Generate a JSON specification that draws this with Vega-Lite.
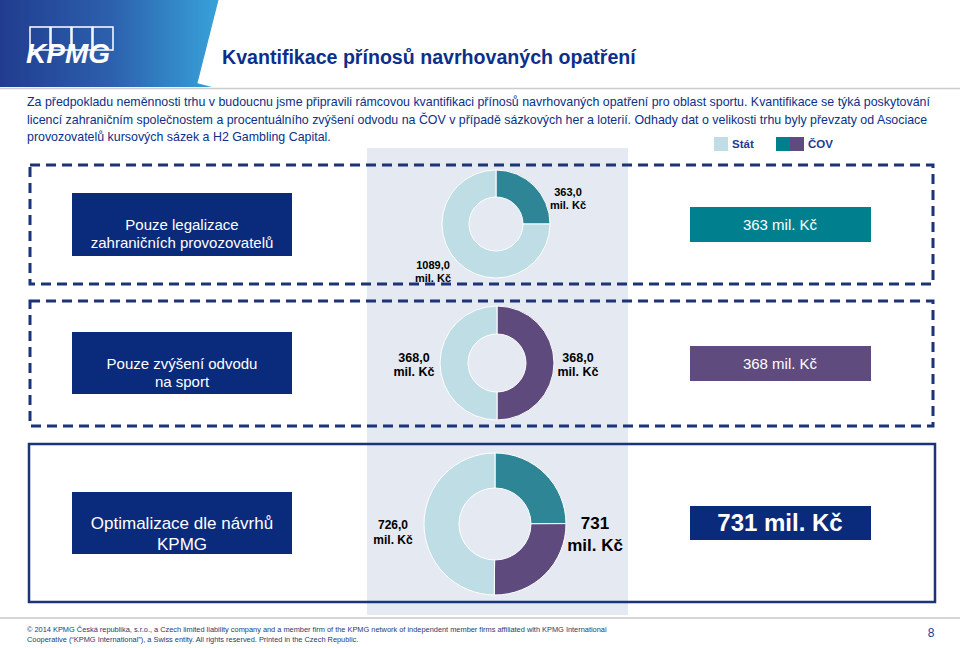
{
  "$schema": "https://vega.github.io/schema/vega-lite/v6.json",
  "width": 960,
  "height": 648,
  "autosize": {"type": "none"},
  "padding": 0,
  "background": "white",
  "config": {"view": {"stroke": null}, "font": "Liberation Sans", "text": {"font": "Liberation Sans"}},
  "resolve": {"scale": {"theta": "independent"}},
  "layer": [
    {
      "data": {"values": [{"el": "header"}]},
      "mark": {"type": "rect", "color": {"gradient": "linear", "x1": 0, "y1": 0, "x2": 1, "y2": 0, "stops": [{"offset": 0, "color": "#213c8f"}, {"offset": 0.5, "color": "#2c60ad"}, {"offset": 1, "color": "#38a4da"}]}},
      "encoding": {
        "x": {"datum": 0, "type": "quantitative", "scale": {"domain": [0, 960], "nice": false, "zero": false}, "axis": null},
        "x2": {"datum": 222},
        "y": {"datum": 0, "type": "quantitative", "scale": {"domain": [0, 648], "nice": false, "zero": false, "reverse": true}, "axis": null},
        "y2": {"datum": 87}
      }
    },
    {
      "data": {"values": [{"el": "slant"}]},
      "mark": {"type": "rule", "color": "white", "strokeWidth": 30},
      "encoding": {
        "x": {"datum": 235, "type": "quantitative", "axis": null},
        "x2": {"datum": 212},
        "y": {"datum": -4, "type": "quantitative", "axis": null},
        "y2": {"datum": 87}
      }
    },
    {
      "data": {"values": [{"el": "line"}]},
      "mark": {"type": "rule", "color": "#cccccc", "strokeWidth": 1.5},
      "encoding": {
        "x": {"datum": 0, "type": "quantitative", "axis": null},
        "x2": {"datum": 960},
        "y": {"datum": 88.5, "type": "quantitative", "axis": null}
      }
    },
    {
      "data": {"values": [{"b": 0}]},
      "mark": {"type": "rect", "fill": null, "fillOpacity": 0, "stroke": "white", "strokeWidth": 1.5},
      "encoding": {"x": {"datum": 30, "type": "quantitative", "axis": null}, "x2": {"datum": 50}, "y": {"datum": 27, "type": "quantitative", "axis": null}, "y2": {"datum": 50}}
    },
    {
      "data": {"values": [{"b": 1}]},
      "mark": {"type": "rect", "fill": null, "fillOpacity": 0, "stroke": "white", "strokeWidth": 1.5},
      "encoding": {"x": {"datum": 51, "type": "quantitative", "axis": null}, "x2": {"datum": 71}, "y": {"datum": 27, "type": "quantitative", "axis": null}, "y2": {"datum": 50}}
    },
    {
      "data": {"values": [{"b": 2}]},
      "mark": {"type": "rect", "fill": null, "fillOpacity": 0, "stroke": "white", "strokeWidth": 1.5},
      "encoding": {"x": {"datum": 72, "type": "quantitative", "axis": null}, "x2": {"datum": 92}, "y": {"datum": 27, "type": "quantitative", "axis": null}, "y2": {"datum": 50}}
    },
    {
      "data": {"values": [{"b": 3}]},
      "mark": {"type": "rect", "fill": null, "fillOpacity": 0, "stroke": "white", "strokeWidth": 1.5},
      "encoding": {"x": {"datum": 93, "type": "quantitative", "axis": null}, "x2": {"datum": 113}, "y": {"datum": 27, "type": "quantitative", "axis": null}, "y2": {"datum": 50}}
    },
    {
      "data": {"values": [{"t": "KPMG"}]},
      "mark": {"type": "text", "color": "white", "fontSize": 28, "fontWeight": "bold", "fontStyle": "italic", "align": "center", "baseline": "alphabetic"},
      "encoding": {"text": {"field": "t"}, "x": {"datum": 68, "type": "quantitative", "axis": null}, "y": {"datum": 63, "type": "quantitative", "axis": null}}
    },
    {
      "data": {"values": [{"t": "Kvantifikace přínosů navrhovaných opatření"}]},
      "mark": {"type": "text", "color": "#0b2f8a", "fontSize": 19.6, "fontWeight": "bold", "align": "left", "baseline": "alphabetic"},
      "encoding": {"text": {"field": "t"}, "x": {"datum": 222, "type": "quantitative", "axis": null}, "y": {"datum": 64, "type": "quantitative", "axis": null}}
    },
    {
      "data": {"values": [{"el": "body"}]},
      "mark": {"type": "text", "color": "#0b2f8a", "fontSize": 12.4, "align": "left", "baseline": "alphabetic", "lineHeight": 17.5},
      "encoding": {
        "text": {"value": ["Za předpokladu neměnnosti trhu v budoucnu jsme připravili rámcovou kvantifikaci přínosů navrhovaných opatření pro oblast sportu. Kvantifikace se týká poskytování", "licencí zahraničním společnostem a procentuálního zvýšení odvodu na ČOV v případě sázkových her a loterií. Odhady dat o velikosti trhu byly převzaty od Asociace", "provozovatelů kursových sázek a H2 Gambling Capital."]},
        "x": {"datum": 27, "type": "quantitative", "axis": null},
        "y": {"datum": 106, "type": "quantitative", "axis": null}
      }
    },
    {
      "data": {"values": [{"el": "column"}]},
      "mark": {"type": "rect", "color": "#e4e9f2"},
      "encoding": {"x": {"datum": 367, "type": "quantitative", "axis": null}, "x2": {"datum": 628}, "y": {"datum": 148, "type": "quantitative", "axis": null}, "y2": {"datum": 615}}
    },
    {
      "data": {"values": [{"part": "Stát"}]},
      "mark": {"type": "rect"},
      "encoding": {"color": {"field": "part", "type": "nominal", "scale": {"domain": ["Stát", "ČOV – licence", "ČOV – odvod", "box teal", "box purple"], "range": ["#bfdde4", "#2e8596", "#5e4a7c", "#00808f", "#5f4b7e"]}, "legend": null}, "x": {"datum": 714, "type": "quantitative", "axis": null}, "x2": {"datum": 728}, "y": {"datum": 137, "type": "quantitative", "axis": null}, "y2": {"datum": 151}}
    },
    {
      "data": {"values": [{"part": "box teal"}]},
      "mark": {"type": "rect"},
      "encoding": {"color": {"field": "part", "type": "nominal", "legend": null}, "x": {"datum": 776, "type": "quantitative", "axis": null}, "x2": {"datum": 790}, "y": {"datum": 137, "type": "quantitative", "axis": null}, "y2": {"datum": 151}}
    },
    {
      "data": {"values": [{"part": "box purple"}]},
      "mark": {"type": "rect"},
      "encoding": {"color": {"field": "part", "type": "nominal", "legend": null}, "x": {"datum": 790, "type": "quantitative", "axis": null}, "x2": {"datum": 804}, "y": {"datum": 137, "type": "quantitative", "axis": null}, "y2": {"datum": 151}}
    },
    {
      "data": {"values": [{"t": "Stát"}]},
      "mark": {"type": "text", "color": "#1b3b8f", "fontSize": 11.5, "fontWeight": "bold", "align": "left", "baseline": "middle"},
      "encoding": {"text": {"field": "t"}, "x": {"datum": 732, "type": "quantitative", "axis": null}, "y": {"datum": 145, "type": "quantitative", "axis": null}}
    },
    {
      "data": {"values": [{"t": "ČOV"}]},
      "mark": {"type": "text", "color": "#1b3b8f", "fontSize": 11.5, "fontWeight": "bold", "align": "left", "baseline": "middle"},
      "encoding": {"text": {"field": "t"}, "x": {"datum": 808, "type": "quantitative", "axis": null}, "y": {"datum": 145, "type": "quantitative", "axis": null}}
    },
    {
      "data": {"values": [{"el": "dash1"}]},
      "mark": {"type": "rect", "fill": null, "fillOpacity": 0, "stroke": "#1b3377", "strokeWidth": 3, "strokeDash": [10, 6]},
      "encoding": {"x": {"datum": 30, "type": "quantitative", "axis": null}, "x2": {"datum": 933}, "y": {"datum": 165, "type": "quantitative", "axis": null}, "y2": {"datum": 284}}
    },
    {
      "data": {"values": [{"el": "dash2"}]},
      "mark": {"type": "rect", "fill": null, "fillOpacity": 0, "stroke": "#1b3377", "strokeWidth": 3, "strokeDash": [10, 6]},
      "encoding": {"x": {"datum": 30, "type": "quantitative", "axis": null}, "x2": {"datum": 933}, "y": {"datum": 301, "type": "quantitative", "axis": null}, "y2": {"datum": 426}}
    },
    {
      "data": {"values": [{"el": "solid3"}]},
      "mark": {"type": "rect", "fill": null, "fillOpacity": 0, "stroke": "#1b3377", "strokeWidth": 2.5},
      "encoding": {"x": {"datum": 29, "type": "quantitative", "axis": null}, "x2": {"datum": 935}, "y": {"datum": 444, "type": "quantitative", "axis": null}, "y2": {"datum": 602}}
    },
    {
      "data": {"values": [{"el": "navy1"}]},
      "mark": {"type": "rect", "color": "#0a2a7c"},
      "encoding": {"x": {"datum": 72, "type": "quantitative", "axis": null}, "x2": {"datum": 292}, "y": {"datum": 193, "type": "quantitative", "axis": null}, "y2": {"datum": 256}}
    },
    {
      "data": {"values": [{"el": "navy2"}]},
      "mark": {"type": "rect", "color": "#0a2a7c"},
      "encoding": {"x": {"datum": 72, "type": "quantitative", "axis": null}, "x2": {"datum": 292}, "y": {"datum": 332, "type": "quantitative", "axis": null}, "y2": {"datum": 394}}
    },
    {
      "data": {"values": [{"el": "navy3"}]},
      "mark": {"type": "rect", "color": "#0a2a7c"},
      "encoding": {"x": {"datum": 72, "type": "quantitative", "axis": null}, "x2": {"datum": 292}, "y": {"datum": 492, "type": "quantitative", "axis": null}, "y2": {"datum": 554}}
    },
    {
      "data": {"values": [{"part": "box teal"}]},
      "mark": {"type": "rect"},
      "encoding": {"color": {"field": "part", "type": "nominal", "legend": null}, "x": {"datum": 690, "type": "quantitative", "axis": null}, "x2": {"datum": 871}, "y": {"datum": 207, "type": "quantitative", "axis": null}, "y2": {"datum": 242}}
    },
    {
      "data": {"values": [{"part": "box purple"}]},
      "mark": {"type": "rect"},
      "encoding": {"color": {"field": "part", "type": "nominal", "legend": null}, "x": {"datum": 690, "type": "quantitative", "axis": null}, "x2": {"datum": 871}, "y": {"datum": 346, "type": "quantitative", "axis": null}, "y2": {"datum": 381}}
    },
    {
      "data": {"values": [{"el": "navyR"}]},
      "mark": {"type": "rect", "color": "#0a2a7c"},
      "encoding": {"x": {"datum": 690, "type": "quantitative", "axis": null}, "x2": {"datum": 871}, "y": {"datum": 506, "type": "quantitative", "axis": null}, "y2": {"datum": 540}}
    },
    {
      "data": {"values": [{"part": "ČOV – licence", "value": 363, "ord": 1}, {"part": "Stát", "value": 1089, "ord": 2}]},
      "mark": {"type": "arc", "outerRadius": 54, "innerRadius": 27, "stroke": "white", "strokeWidth": 1},
      "encoding": {
        "theta": {"field": "value", "type": "quantitative", "stack": true},
        "order": {"field": "ord", "type": "quantitative"},
        "color": {"field": "part", "type": "nominal", "legend": null},
        "x": {"datum": 496, "type": "quantitative", "axis": null},
        "y": {"datum": 224, "type": "quantitative", "axis": null}
      }
    },
    {
      "data": {"values": [{"part": "ČOV – odvod", "value": 368, "ord": 1}, {"part": "Stát", "value": 368, "ord": 2}]},
      "mark": {"type": "arc", "outerRadius": 57, "innerRadius": 29, "stroke": "white", "strokeWidth": 1},
      "encoding": {
        "theta": {"field": "value", "type": "quantitative", "stack": true},
        "order": {"field": "ord", "type": "quantitative"},
        "color": {"field": "part", "type": "nominal", "legend": null},
        "x": {"datum": 497, "type": "quantitative", "axis": null},
        "y": {"datum": 363, "type": "quantitative", "axis": null}
      }
    },
    {
      "data": {"values": [{"part": "ČOV – licence", "value": 363, "ord": 1}, {"part": "ČOV – odvod", "value": 368, "ord": 2}, {"part": "Stát", "value": 726, "ord": 3}]},
      "mark": {"type": "arc", "outerRadius": 71, "innerRadius": 36, "stroke": "white", "strokeWidth": 1},
      "encoding": {
        "theta": {"field": "value", "type": "quantitative", "stack": true},
        "order": {"field": "ord", "type": "quantitative"},
        "color": {"field": "part", "type": "nominal", "legend": null},
        "x": {"datum": 495, "type": "quantitative", "axis": null},
        "y": {"datum": 524, "type": "quantitative", "axis": null}
      }
    },
    {
      "data": {"values": [{"el": "t1"}]},
      "mark": {"type": "text", "color": "white", "fontSize": 15, "lineHeight": 18, "align": "center", "baseline": "middle"},
      "encoding": {"text": {"value": ["Pouze legalizace", "zahraničních provozovatelů"]}, "x": {"datum": 182, "type": "quantitative", "axis": null}, "y": {"datum": 225, "type": "quantitative", "axis": null}}
    },
    {
      "data": {"values": [{"el": "t2"}]},
      "mark": {"type": "text", "color": "white", "fontSize": 15, "lineHeight": 18, "align": "center", "baseline": "middle"},
      "encoding": {"text": {"value": ["Pouze zvýšení odvodu", "na sport"]}, "x": {"datum": 182, "type": "quantitative", "axis": null}, "y": {"datum": 364, "type": "quantitative", "axis": null}}
    },
    {
      "data": {"values": [{"el": "t3"}]},
      "mark": {"type": "text", "color": "white", "fontSize": 17, "lineHeight": 21, "align": "center", "baseline": "middle"},
      "encoding": {"text": {"value": ["Optimalizace dle návrhů", "KPMG"]}, "x": {"datum": 182, "type": "quantitative", "axis": null}, "y": {"datum": 524, "type": "quantitative", "axis": null}}
    },
    {
      "data": {"values": [{"t": "363 mil. Kč"}]},
      "mark": {"type": "text", "color": "white", "fontSize": 15, "align": "center", "baseline": "middle"},
      "encoding": {"text": {"field": "t"}, "x": {"datum": 780, "type": "quantitative", "axis": null}, "y": {"datum": 225, "type": "quantitative", "axis": null}}
    },
    {
      "data": {"values": [{"t": "368 mil. Kč"}]},
      "mark": {"type": "text", "color": "white", "fontSize": 15, "align": "center", "baseline": "middle"},
      "encoding": {"text": {"field": "t"}, "x": {"datum": 780, "type": "quantitative", "axis": null}, "y": {"datum": 364, "type": "quantitative", "axis": null}}
    },
    {
      "data": {"values": [{"t": "731 mil. Kč"}]},
      "mark": {"type": "text", "color": "white", "fontSize": 24, "fontWeight": "bold", "align": "center", "baseline": "middle"},
      "encoding": {"text": {"field": "t"}, "x": {"datum": 780, "type": "quantitative", "axis": null}, "y": {"datum": 524, "type": "quantitative", "axis": null}}
    },
    {
      "data": {"values": [{"el": "lab1"}]},
      "mark": {"type": "text", "color": "black", "fontSize": 11, "fontWeight": "bold", "lineHeight": 13, "align": "center", "baseline": "middle"},
      "encoding": {"text": {"value": ["363,0", "mil. Kč"]}, "x": {"datum": 568, "type": "quantitative", "axis": null}, "y": {"datum": 193, "type": "quantitative", "axis": null}}
    },
    {
      "data": {"values": [{"el": "lab2"}]},
      "mark": {"type": "text", "color": "black", "fontSize": 11, "fontWeight": "bold", "lineHeight": 13, "align": "center", "baseline": "middle"},
      "encoding": {"text": {"value": ["1089,0", "mil. Kč"]}, "x": {"datum": 433, "type": "quantitative", "axis": null}, "y": {"datum": 266, "type": "quantitative", "axis": null}}
    },
    {
      "data": {"values": [{"el": "lab3"}]},
      "mark": {"type": "text", "color": "black", "fontSize": 12.5, "fontWeight": "bold", "lineHeight": 14, "align": "center", "baseline": "middle"},
      "encoding": {"text": {"value": ["368,0", "mil. Kč"]}, "x": {"datum": 414, "type": "quantitative", "axis": null}, "y": {"datum": 358, "type": "quantitative", "axis": null}}
    },
    {
      "data": {"values": [{"el": "lab4"}]},
      "mark": {"type": "text", "color": "black", "fontSize": 12.5, "fontWeight": "bold", "lineHeight": 14, "align": "center", "baseline": "middle"},
      "encoding": {"text": {"value": ["368,0", "mil. Kč"]}, "x": {"datum": 578, "type": "quantitative", "axis": null}, "y": {"datum": 358, "type": "quantitative", "axis": null}}
    },
    {
      "data": {"values": [{"el": "lab5"}]},
      "mark": {"type": "text", "color": "black", "fontSize": 12, "fontWeight": "bold", "lineHeight": 15, "align": "center", "baseline": "middle"},
      "encoding": {"text": {"value": ["726,0", "mil. Kč"]}, "x": {"datum": 393, "type": "quantitative", "axis": null}, "y": {"datum": 525, "type": "quantitative", "axis": null}}
    },
    {
      "data": {"values": [{"el": "lab6"}]},
      "mark": {"type": "text", "color": "black", "fontSize": 17, "fontWeight": "bold", "lineHeight": 22, "align": "center", "baseline": "middle"},
      "encoding": {"text": {"value": ["731", "mil. Kč"]}, "x": {"datum": 595, "type": "quantitative", "axis": null}, "y": {"datum": 524, "type": "quantitative", "axis": null}}
    },
    {
      "data": {"values": [{"el": "footline"}]},
      "mark": {"type": "rule", "color": "#c8c8c8", "strokeWidth": 1.5},
      "encoding": {"x": {"datum": 0, "type": "quantitative", "axis": null}, "x2": {"datum": 960}, "y": {"datum": 618, "type": "quantitative", "axis": null}}
    },
    {
      "data": {"values": [{"el": "foot"}]},
      "mark": {"type": "text", "color": "#1f3a70", "fontSize": 7.4, "lineHeight": 10, "align": "left", "baseline": "middle"},
      "encoding": {"text": {"value": ["© 2014 KPMG Česká republika, s.r.o., a Czech limited liability company and a member firm of the KPMG network of independent member firms affiliated with KPMG International", "Cooperative (“KPMG International”), a Swiss entity. All rights reserved. Printed in the Czech Republic."]}, "x": {"datum": 27, "type": "quantitative", "axis": null}, "y": {"datum": 630, "type": "quantitative", "axis": null}}
    },
    {
      "data": {"values": [{"t": "8"}]},
      "mark": {"type": "text", "color": "#1f3a8a", "fontSize": 12, "align": "center", "baseline": "middle"},
      "encoding": {"text": {"field": "t"}, "x": {"datum": 931, "type": "quantitative", "axis": null}, "y": {"datum": 633, "type": "quantitative", "axis": null}}
    }
  ]
}
